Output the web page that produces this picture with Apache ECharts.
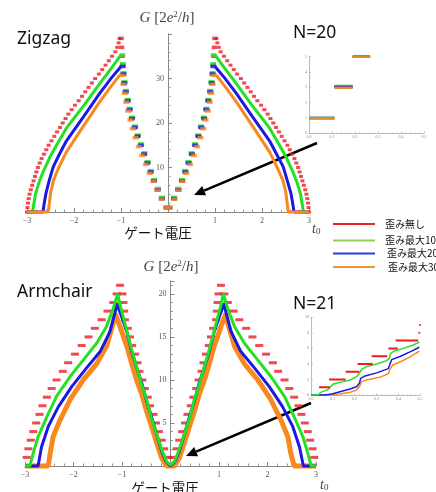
<!DOCTYPE html>
<html lang="ja">
<head>
<meta charset="UTF-8">
<title>ゲート電圧 - コンダクタンス</title>
<script src="https://cdn.jsdelivr.net/npm/echarts@6/dist/echarts.min.js"></script>
<style>
  html, body { margin: 0; padding: 0; background: #fff; }
  #chart { width: 436px; height: 492px; }
</style>
</head>
<body>
<div id="chart"></div>
<script>
// ---- Zigzag (N=20), upper panel ----
var zzRedOuterL = [[-3,0],[-2.99,1],[-2.98,2],[-2.965,3],[-2.945,4],[-2.92,5],[-2.89,6],[-2.86,7],[-2.83,8],[-2.8,9],[-2.77,10],[-2.73,11],[-2.69,12],[-2.64,13],[-2.59,14],[-2.54,15],[-2.48,16],[-2.42,17],[-2.36,18],[-2.3,19],[-2.24,20],[-2.18,21],[-2.12,22],[-2.05,23],[-1.98,24],[-1.9,25],[-1.83,26],[-1.76,27],[-1.69,28],[-1.62,29],[-1.55,30],[-1.47,31],[-1.4,32],[-1.33,33],[-1.26,34],[-1.19,35],[-1.12,36],[-1.08,37],[-1.05,38],[-1.03,39]];
var zzRedOuterR = [[3,0],[2.99,1],[2.98,2],[2.965,3],[2.945,4],[2.92,5],[2.89,6],[2.86,7],[2.83,8],[2.8,9],[2.77,10],[2.73,11],[2.69,12],[2.64,13],[2.59,14],[2.54,15],[2.48,16],[2.42,17],[2.36,18],[2.3,19],[2.24,20],[2.18,21],[2.12,22],[2.05,23],[1.98,24],[1.9,25],[1.83,26],[1.76,27],[1.69,28],[1.62,29],[1.55,30],[1.47,31],[1.4,32],[1.33,33],[1.26,34],[1.19,35],[1.12,36],[1.08,37],[1.05,38],[1.03,39]];
var zzRedInner = [[-0.03,1],[-0.13,3],[-0.22,5],[-0.3,7],[-0.37,9],[-0.44,11],[-0.51,13],[-0.58,15],[-0.65,17],[-0.71,19],[-0.77,21],[-0.82,23],[-0.86,25],[-0.9,27],[-0.93,29],[-0.95,31],[-0.965,33],[-0.975,35],[-0.985,37],[-0.995,39],
                  [0.03,1],[0.13,3],[0.22,5],[0.3,7],[0.37,9],[0.44,11],[0.51,13],[0.58,15],[0.65,17],[0.71,19],[0.77,21],[0.82,23],[0.86,25],[0.9,27],[0.93,29],[0.95,31],[0.965,33],[0.975,35],[0.985,37],[0.995,39]];
var zzGreenOuterL = [[-3,0],[-2.88,0],[-2.86,1.5],[-2.82,4],[-2.75,6.5],[-2.65,9.2],[-2.51,12.4],[-2.35,15.4],[-2.16,18.9],[-1.8,23.8],[-1.45,28.9],[-1.2,32.4],[-1,35.3]];
var zzGreenOuterR = [[3,0],[2.88,0],[2.86,1.5],[2.82,4],[2.75,6.5],[2.65,9.2],[2.51,12.4],[2.35,15.4],[2.16,18.9],[1.8,23.8],[1.45,28.9],[1.2,32.4],[1,35.3]];
var zzGreenInner = [[-0.03,1],[-0.125,3.3],[-0.215,5.3],[-0.295,7.3],[-0.365,9.3],[-0.435,11.3],[-0.5,13.3],[-0.57,15.3],[-0.64,17.3],[-0.7,19.3],[-0.76,21.3],[-0.81,23.3],[-0.855,25.3],[-0.895,27.3],[-0.925,29.3],[-0.945,31.3],[-0.96,33.3],[-0.97,35.3],
                    [0.03,1],[0.125,3.3],[0.215,5.3],[0.295,7.3],[0.365,9.3],[0.435,11.3],[0.5,13.3],[0.57,15.3],[0.64,17.3],[0.7,19.3],[0.76,21.3],[0.81,23.3],[0.855,25.3],[0.895,27.3],[0.925,29.3],[0.945,31.3],[0.96,33.3],[0.97,35.3]];
var zzBlueOuterL = [[-3,0],[-2.66,0],[-2.64,1.5],[-2.6,4],[-2.53,7],[-2.44,10.2],[-2.3,13.2],[-2.16,16],[-1.8,21.4],[-1.45,26.7],[-1.2,30.2],[-1,32.7]];
var zzBlueOuterR = [[3,0],[2.68,0],[2.66,1.5],[2.62,4],[2.54,7],[2.45,10.2],[2.3,13.2],[2.16,16],[1.8,21.4],[1.45,26.7],[1.2,30.2],[1,32.7]];
var zzBlueInner = [[-0.03,1],[-0.13,3],[-0.22,5],[-0.3,7],[-0.37,9],[-0.44,11],[-0.51,13],[-0.58,15],[-0.65,17],[-0.71,19],[-0.77,21],[-0.82,23],[-0.86,25],[-0.9,27],[-0.93,29],[-0.95,31],[-0.965,32.7],
                   [0.03,1],[0.13,3],[0.22,5],[0.3,7],[0.37,9],[0.44,11],[0.51,13],[0.58,15],[0.65,17],[0.71,19],[0.77,21],[0.82,23],[0.86,25],[0.9,27],[0.93,29],[0.95,31],[0.965,32.7]];
var zzOrangeOuterL = [[-3,0],[-2.55,0],[-2.53,1.5],[-2.5,4.2],[-2.44,7],[-2.37,8.9],[-2.28,11],[-2.16,13.5],[-1.8,19.3],[-1.45,24.8],[-1.2,28.4],[-1.02,30.8]];
var zzOrangeOuterR = [[3,0],[2.56,0],[2.54,1.5],[2.51,4.2],[2.45,7],[2.37,8.9],[2.28,11],[2.16,13.5],[1.8,19.3],[1.45,24.8],[1.2,28.4],[1.02,30.8]];
var zzOrangeInner = [[-0.04,1],[-0.14,2.9],[-0.23,4.9],[-0.31,6.9],[-0.39,8.7],[-0.47,10.7],[-0.55,12.7],[-0.62,14.7],[-0.69,16.7],[-0.75,18.7],[-0.8,20.7],[-0.85,22.7],[-0.89,24.7],[-0.92,26.7],[-0.95,28.7],[-0.97,30.7],
                     [0.04,1],[0.14,2.9],[0.23,4.9],[0.31,6.9],[0.39,8.7],[0.47,10.7],[0.55,12.7],[0.62,14.7],[0.69,16.7],[0.75,18.7],[0.8,20.7],[0.85,22.7],[0.89,24.7],[0.92,26.7],[0.95,28.7],[0.97,30.7]];

// ---- Armchair (N=21), lower panel ----
var acRed = [[-2.965,1],[-2.93,2],[-2.88,3],[-2.83,4],[-2.77,5],[-2.7,6],[-2.64,7],[-2.55,8],[-2.45,9],[-2.35,10],[-2.22,11],[-2.11,12],[-1.97,13],[-1.83,14],[-1.69,15],[-1.56,16],[-1.42,17],[-1.3,18],[-1.18,19],[-1.11,20],[-1.04,21],
             [-0.99,20],[-0.97,19],[-0.955,18],[-0.94,17],[-0.88,16],[-0.835,15],[-0.79,14],[-0.73,13],[-0.68,12],[-0.64,11],[-0.58,10],[-0.53,9],[-0.47,8],[-0.42,7],[-0.35,6],[-0.3,5],[-0.24,4],[-0.18,3],[-0.13,2],[-0.04,1],
             [0.04,1],[0.13,2],[0.18,3],[0.24,4],[0.3,5],[0.35,6],[0.42,7],[0.47,8],[0.53,9],[0.58,10],[0.64,11],[0.68,12],[0.73,13],[0.79,14],[0.835,15],[0.88,16],[0.94,17],[0.955,18],[0.97,19],[0.99,20],
             [1.04,21],[1.11,20],[1.18,19],[1.3,18],[1.42,17],[1.56,16],[1.69,15],[1.83,14],[1.97,13],[2.11,12],[2.22,11],[2.35,10],[2.45,9],[2.55,8],[2.64,7],[2.7,6],[2.77,5],[2.83,4],[2.88,3],[2.93,2],[2.965,1]];
var acGreen = [[-3,0],[-2.9,0],[-2.83,1.5],[-2.73,3.4],[-2.55,5.7],[-2.35,8.1],[-2.07,10.4],[-1.8,12.3],[-1.52,14.3],[-1.32,16.2],[-1.18,18.3],[-1.09,20],[-1.03,18.5],[-0.96,17],[-0.87,15],[-0.77,12.9],[-0.68,11.2],[-0.59,9.4],[-0.49,7.7],[-0.4,5.7],[-0.29,3.8],[-0.18,1.9],[-0.08,0.5],[0,0.1],
               [0.08,0.5],[0.18,1.9],[0.29,3.8],[0.4,5.7],[0.49,7.7],[0.59,9.4],[0.68,11.2],[0.77,12.9],[0.87,15],[0.96,17],[1.03,18.5],[1.09,20],[1.18,18.3],[1.32,16.2],[1.52,14.3],[1.8,12.3],[2.07,10.4],[2.35,8.1],[2.55,5.7],[2.73,3.4],[2.83,1.5],[2.9,0],[3,0]];
var acBlue = [[-3,0],[-2.73,0],[-2.66,2.2],[-2.52,4.6],[-2.31,6.9],[-2.04,9.2],[-1.73,11.4],[-1.45,13.3],[-1.25,15.6],[-1.14,17.9],[-1.11,18.9],[-1.01,17.4],[-0.9,15.6],[-0.8,13.3],[-0.7,11.5],[-0.59,9.6],[-0.49,7.5],[-0.39,5.7],[-0.28,3.6],[-0.18,1.7],[-0.09,0.5],[0,0],
              [0.09,0.5],[0.18,1.7],[0.28,3.6],[0.39,5.7],[0.49,7.5],[0.59,9.6],[0.7,11.5],[0.8,13.3],[0.9,15.6],[1.01,17.4],[1.11,18.9],[1.14,17.9],[1.25,15.6],[1.45,13.3],[1.73,11.4],[2.04,9.2],[2.31,6.9],[2.52,4.6],[2.66,2.2],[2.74,0],[3,0]];
var acOrange = [[-3,0],[-2.52,0],[-2.48,1.5],[-2.42,3.4],[-2.28,5.3],[-2.07,7.7],[-1.8,10],[-1.52,11.9],[-1.32,13.9],[-1.18,16.6],[-1.14,17.7],[-1.04,16.2],[-0.9,13.9],[-0.8,11.9],[-0.7,10],[-0.59,8.3],[-0.49,6.3],[-0.39,4.6],[-0.28,2.6],[-0.18,0.9],[-0.08,0],[0,0],
                [0.08,0],[0.18,0.9],[0.28,2.6],[0.39,4.6],[0.49,6.3],[0.59,8.3],[0.7,10],[0.8,11.9],[0.9,13.9],[1.04,16.2],[1.14,17.7],[1.18,16.6],[1.32,13.9],[1.52,11.9],[1.8,10],[2.07,7.7],[2.28,5.3],[2.42,3.4],[2.48,1.5],[2.55,0],[3,0]];

// ---- insets: [x0, x1, level] plateaus and curves ----
var zzInsetGreen  = [[0, 0.11, 1.0], [0.11, 0.19, 3.08], [0.19, 0.265, 5.0]];
var zzInsetBlue   = [[0, 0.11, 1.0], [0.11, 0.19, 3.03], [0.19, 0.265, 5.0]];
var zzInsetOrange = [[0, 0.112, 0.99], [0.112, 0.19, 2.97], [0.19, 0.267, 4.99]];
var acInsetRedSteps = [[0.037, 0.087, 1], [0.083, 0.159, 2], [0.159, 0.222, 3], [0.214, 0.283, 4], [0.278, 0.35, 5], [0.355, 0.398, 6], [0.388, 0.492, 7]];
var acInsetRedDots = [[0.497, 8], [0.5, 9]];
var acInsetGreen = [[0,0],[0.034,0],[0.044,0.34],[0.064,0.56],[0.08,0.73],[0.09,1.07],[0.102,1.42],[0.148,1.72],[0.179,1.93],[0.209,2.36],[0.222,2.79],[0.232,3.3],[0.255,3.65],[0.301,3.99],[0.347,4.42],[0.359,4.72],[0.365,5.36],[0.385,5.7],[0.424,6.0],[0.469,6.44],[0.497,6.8]];
var acInsetBlue = [[0,0],[0.064,0],[0.095,0.13],[0.133,0.43],[0.179,0.77],[0.209,1.07],[0.222,1.5],[0.228,2.15],[0.248,2.45],[0.301,2.85],[0.355,3.4],[0.362,3.95],[0.37,4.55],[0.408,4.95],[0.454,5.55],[0.497,6.15]];
var acInsetOrange = [[0,0],[0.08,0],[0.133,0.13],[0.179,0.34],[0.209,0.64],[0.222,1.07],[0.232,1.72],[0.255,1.93],[0.317,2.3],[0.355,2.75],[0.362,3.3],[0.375,3.86],[0.408,4.25],[0.454,4.9],[0.497,5.65]];

var legendNames = ['歪み無し', '歪み最大10%', '歪み最大20%', '歪み最大30%'];
var legendColors = ['#e3262b', '#92d050', '#2a3ee0', '#f0903a'];

var RED = '#ec1c24', GREEN = '#22e022', BLUE = '#1919e6', ORANGE = '#f7891f';
var SERIF = '"Liberation Serif", "DejaVu Serif", serif';
var SANS = '"Noto Sans", "Liberation Sans", sans-serif';
var CJK = '"Noto Sans CJK JP", sans-serif';

var myChart = echarts.init(document.getElementById('chart'));

function dots(g, data, color, size) {
    return { type: 'scatter', xAxisIndex: g, yAxisIndex: g, data: data, symbol: 'rect',
             symbolSize: size, itemStyle: { color: color }, clip: false, silent: true };
}
function curve(g, data, color, width) {
    return { type: 'line', xAxisIndex: g, yAxisIndex: g, data: data, showSymbol: false,
             lineStyle: { color: color, width: width }, itemStyle: { color: color }, clip: false, silent: true };
}
function steps(g, list, color, width) {
    return list.map(function (s) { return curve(g, [[s[0], s[2]], [s[1], s[2]]], color, width); });
}

function mainX(g) {
    return {
        type: 'value', gridIndex: g, min: -3, max: 3, interval: 1,
        axisLine: { lineStyle: { color: '#888' } },
        axisTick: { inside: true, length: 4, lineStyle: { color: '#888' } },
        minorTick: { show: true, splitNumber: 5, length: 2.5, lineStyle: { color: '#999' } },
        splitLine: { show: false },
        axisLabel: { fontFamily: SERIF, fontSize: 8, color: '#555', margin: 5,
            formatter: function (v) { return v === 0 ? '' : (v < 0 ? '\u2212' + (-v) : '' + v); } }
    };
}
// hidden scale axis used by the data
function dataY(g, max) {
    return { type: 'value', gridIndex: g, min: 0, max: max, show: false, splitLine: { show: false } };
}
// visible G axis, drawn on its own grid whose left edge sits at gate voltage 0
function shownY(g, max, interval, minorSplit) {
    return {
        type: 'value', gridIndex: g, min: 0, max: max, interval: interval,
        axisLine: { show: true, lineStyle: { color: '#888' } },
        axisTick: { show: true, inside: true, length: 4, lineStyle: { color: '#888' } },
        minorTick: { show: true, splitNumber: minorSplit, length: 2.5, lineStyle: { color: '#999' } },
        splitLine: { show: false },
        axisLabel: { fontFamily: SERIF, fontSize: 8, color: '#555', margin: 4,
            formatter: function (v) { return (v === 0 || v % interval !== 0 || v === 40) ? '' : '' + v; } }
    };
}
function blankX(g) {
    return { type: 'value', gridIndex: g, min: 0, max: 1, show: false };
}
function insetX(g) {
    return {
        type: 'value', gridIndex: g, min: 0, max: 0.5, interval: 0.1,
        axisLine: { lineStyle: { color: '#aaa', width: 0.8 } },
        axisTick: { inside: true, length: 2, lineStyle: { color: '#aaa', width: 0.6 } },
        minorTick: { show: true, splitNumber: 5, length: 1.2, lineStyle: { color: '#bbb', width: 0.5 } },
        splitLine: { show: false },
        axisLabel: { fontFamily: SERIF, fontSize: 4, color: '#888', margin: 2,
            formatter: function (v) { return v.toFixed(1); } }
    };
}
function insetY(g, max, interval) {
    return {
        type: 'value', gridIndex: g, min: 0, max: max, interval: interval,
        axisLine: { show: true, lineStyle: { color: '#aaa', width: 0.8 } },
        axisTick: { show: true, inside: true, length: 2, lineStyle: { color: '#aaa', width: 0.6 } },
        minorTick: { show: true, splitNumber: 5, length: 1.2, lineStyle: { color: '#bbb', width: 0.5 } },
        splitLine: { show: false },
        axisLabel: { fontFamily: SERIF, fontSize: 4, color: '#888', margin: 2 }
    };
}

function arrow(x1, y1, x2, y2) {
    var dx = x2 - x1, dy = y2 - y1, len = Math.sqrt(dx * dx + dy * dy);
    var ux = dx / len, uy = dy / len, hl = 11, hw = 5;
    var bx = x2 - ux * hl, by = y2 - uy * hl;
    return [
        { type: 'line', shape: { x1: x1, y1: y1, x2: bx, y2: by }, style: { stroke: '#000', lineWidth: 2.5 } },
        { type: 'polygon', shape: { points: [[x2, y2], [bx - uy * hw, by + ux * hw], [bx + uy * hw, by - ux * hw]] }, style: { fill: '#000' } }
    ];
}

function gLabel(x, y) {
    return { type: 'text', x: x, y: y, style: {
        text: '{i|G} [2{i|e}{s|2}/{i|h}]', fontFamily: SERIF, fontSize: 15, fill: '#444',
        align: 'center', verticalAlign: 'middle',
        rich: { i: { fontFamily: SERIF, fontStyle: 'italic', fontSize: 15, fill: '#444' },
                s: { fontFamily: SERIF, fontSize: 9, fill: '#444', verticalAlign: 'top', padding: [0, 0, 7, 0] } } } };
}
function tLabel(x, y) {
    return { type: 'text', x: x, y: y, style: {
        text: '{i|t}{s|0}', fontFamily: SERIF, fontSize: 14, fill: '#444', verticalAlign: 'middle',
        rich: { i: { fontFamily: SERIF, fontStyle: 'italic', fontSize: 14, fill: '#444' },
                s: { fontFamily: SERIF, fontSize: 9, fill: '#444', verticalAlign: 'bottom', padding: [6, 0, 0, 0] } } } };
}
function txt(s, x, y, size, family, align) {
    return { type: 'text', x: x, y: y, style: { text: s, fontFamily: family, fontSize: size, fill: '#111',
             align: align || 'left', verticalAlign: 'middle' } };
}

var graphics = [
    txt('Zigzag', 17, 39, 17.5, SANS), txt('Armchair', 17, 292, 17.5, SANS),
    txt('N=20', 293, 33, 17.5, SANS), txt('N=21', 293, 304, 17.5, SANS),
    txt('ゲート電圧', 158, 233, 13.5, CJK, 'center'), txt('ゲート電圧', 165, 488, 13.5, CJK, 'center'),
    gLabel(167, 18), gLabel(171, 267), tLabel(312, 229), tLabel(320, 485)
];
var legendY = [224, 240.5, 253.5, 267], legendX = [385, 385, 387, 388];
legendNames.forEach(function (n, i) {
    graphics.push({ type: 'line', shape: { x1: 333, y1: legendY[i], x2: 375, y2: legendY[i] }, style: { stroke: legendColors[i], lineWidth: 2 } });
    graphics.push(txt(n, legendX[i], legendY[i], 10, CJK));
});
graphics = graphics.concat(arrow(317, 143, 194, 195), arrow(311, 403, 186, 456));

var series = [
    curve(0, zzGreenOuterL, GREEN, 3), curve(0, zzGreenOuterR, GREEN, 3),
    curve(0, zzBlueOuterL, BLUE, 3), curve(0, zzBlueOuterR, BLUE, 3),
    curve(0, zzOrangeOuterL, ORANGE, 3), curve(0, zzOrangeOuterR, ORANGE, 3),
    dots(0, zzRedOuterL, RED, [4, 3]), dots(0, zzRedOuterR, RED, [4, 3]),
    dots(0, zzRedInner, RED, [5, 3.5]), dots(0, zzGreenInner, GREEN, [6, 3.5]),
    dots(0, zzBlueInner, BLUE, [6, 3.5]), dots(0, zzOrangeInner, ORANGE, [6, 3.5]),
    curve(1, acOrange, ORANGE, 5), curve(1, acBlue, BLUE, 3), curve(1, acGreen, GREEN, 3),
    dots(1, acRed, RED, [8, 3]),
    dots(3, acInsetRedDots, RED, [2, 2]),
    curve(3, acInsetOrange, ORANGE, 1.5), curve(3, acInsetBlue, BLUE, 1.5), curve(3, acInsetGreen, GREEN, 1.5)
].concat(steps(2, zzInsetGreen, GREEN, 2.5), steps(2, zzInsetBlue, BLUE, 2.5), steps(2, zzInsetOrange, '#e08a2a', 2.5),
         steps(3, acInsetRedSteps, RED, 2));

var option = {
    animation: false,
    backgroundColor: '#fff',
    grid: [
        { left: 27, right: 127, top: 34, bottom: 280, outerBoundsMode: 'none' },
        { left: 25, right: 120, top: 281, bottom: 26, outerBoundsMode: 'none' },
        { left: 309, width: 115, top: 56.7, height: 76.6, outerBoundsMode: 'none' },
        { left: 311, width: 109, top: 317.3, height: 77.7, outerBoundsMode: 'none' },
        { left: 168, right: 127, top: 34, bottom: 280, outerBoundsMode: 'none' },
        { left: 170.5, right: 120, top: 281, bottom: 26, outerBoundsMode: 'none' }
    ],
    xAxis: [mainX(0), mainX(1), insetX(2), insetX(3), blankX(4), blankX(5)],
    yAxis: [dataY(0, 40), dataY(1, 21.5), insetY(2, 5, 1), insetY(3, 10, 2), shownY(4, 40, 10, 5), shownY(5, 21.5, 5, 5)],
    series: series,
    graphic: graphics
};
myChart.setOption(option);
</script>
</body>
</html>
